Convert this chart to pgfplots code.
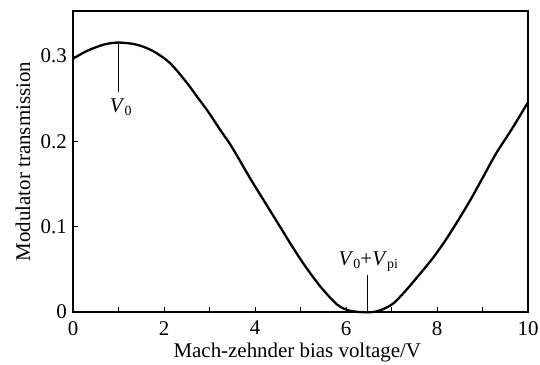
\documentclass[border=0pt]{standalone}
\usepackage{fontspec}
\setmainfont{Liberation Serif}
\usepackage{pgfplots}
\pgfplotsset{compat=1.18}
\newcommand{\bigf}{\fontsize{21}{25}\selectfont}
\newcommand{\sub}[1]{\raisebox{-0.35ex}{\fontsize{14}{14}\selectfont #1}}
\begin{document}
\begin{tikzpicture}
\path[use as bounding box] (-73bp,-53bp) rectangle (467bp,312bp);
\begin{axis}[
  at={(0,0)}, anchor=south west,
  scale only axis, width=455bp, height=301bp,
  xmin=0, xmax=10, ymin=0, ymax=0.353,
  axis line style={line width=1.1bp},
  tick pos=left, tick align=inside,
  major tick length=5bp, minor tick length=5bp,
  tick style={black, line width=0.9bp},
  xtick={0,2,...,10}, minor xtick={1,3,...,9},
  ytick={0,0.1,0.2,0.3}, yticklabels={0,0.1,0.2,0.3},
  /pgf/number format/assume math mode=true,
  ticklabel style={font=\bigf, inner sep=0pt},
  xticklabel style={anchor=north, yshift=-9bp},
  yticklabel style={anchor=east, xshift=-6bp},
  xlabel={Mach-zehnder bias voltage/V},
  ylabel={Modulator transmission},
  label style={font=\bigf, inner sep=0pt},
  xlabel style={at={(axis description cs:0.493,0)}, anchor=north, yshift=-31bp},
  ylabel style={at={(axis description cs:0,0.5)}, anchor=center, rotate=0, yshift=50bp},
  clip=false,
]
\addplot[black, line width=2.3bp, smooth, tension=0.5] coordinates {
(0,0.297) (0.3,0.306) (0.67,0.3135) (1.0,0.316) (1.4,0.3135) (1.76,0.306)
(2.13,0.292) (2.5,0.269) (2.72,0.253) (2.97,0.235) (3.23,0.214) (3.45,0.197)
(3.63,0.181) (3.89,0.157) (4.11,0.138) (4.4,0.113) (4.62,0.094) (4.84,0.075)
(5.1,0.054) (5.45,0.029) (5.8,0.009) (6.05,0.002) (6.3,0.0) (6.6,0.0)
(6.8,0.003) (7.04,0.010) (7.26,0.022) (7.41,0.031) (7.63,0.045) (7.92,0.064)
(8.21,0.086) (8.47,0.108) (8.73,0.131) (9.0,0.157) (9.3,0.186) (9.65,0.215)
(10,0.246)
};
\addplot[black, line width=0.8bp] coordinates {(1,0.316) (1,0.258)};
\addplot[black, line width=0.8bp] coordinates {(6.48,0) (6.48,0.0435)};
\node[anchor=base, inner sep=0pt, font=\bigf] at (axis cs:1.05,0.234) {\textit{V}\sub{0}};
\node[anchor=base, inner sep=0pt, font=\bigf] at (axis cs:6.49,0.055) {\textit{V}\sub{0}+\textit{V}\sub{pi}};
\end{axis}
\end{tikzpicture}
\end{document}
